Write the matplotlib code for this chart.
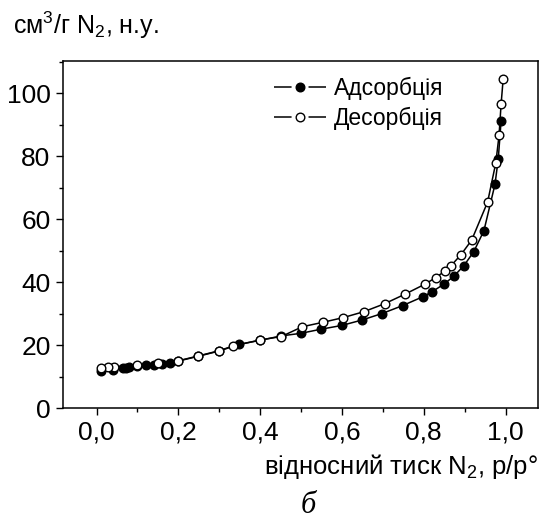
import numpy as np
from matplotlib import pyplot as plt
from matplotlib.ticker import MultipleLocator, FuncFormatter

plt.rcParams['font.family'] = ['Liberation Sans', 'DejaVu Sans']
plt.rcParams['mathtext.fontset'] = 'custom'
plt.rcParams['mathtext.rm'] = 'Liberation Sans'
plt.rcParams['mathtext.it'] = 'Liberation Sans'

# adsorption branch (filled)
ads_x = [0.010, 0.040, 0.065, 0.073, 0.080, 0.100, 0.120, 0.140, 0.159, 0.179,
         0.200, 0.248, 0.300, 0.348, 0.400, 0.452, 0.499, 0.548, 0.599, 0.648,
         0.698, 0.748, 0.799, 0.820, 0.849, 0.874, 0.898, 0.922, 0.947, 0.974,
         0.982, 0.989]
ads_y = [12.0, 12.3, 12.9, 12.9, 13.0, 13.5, 13.7, 13.9, 14.0, 14.5,
         15.0, 16.5, 18.2, 20.3, 21.6, 23.0, 23.8, 25.1, 26.3, 28.0,
         30.1, 32.6, 35.5, 37.0, 39.4, 42.0, 45.3, 49.7, 56.4, 71.1,
         79.1, 91.3]

# desorption branch (open)
des_x = [0.994, 0.989, 0.984, 0.976, 0.956, 0.917, 0.891, 0.866, 0.853, 0.829,
         0.804, 0.755, 0.704, 0.654, 0.603, 0.553, 0.503, 0.452, 0.400, 0.334,
         0.300, 0.248, 0.200, 0.150, 0.100, 0.042, 0.028, 0.010]
des_y = [104.5, 96.6, 86.7, 77.9, 65.5, 53.4, 48.8, 45.2, 43.7, 41.5,
         39.5, 36.3, 33.2, 30.7, 28.8, 27.3, 25.9, 22.8, 21.7, 19.8,
         18.3, 16.6, 15.1, 14.3, 13.7, 13.2, 13.2, 12.7]

fig = plt.figure(figsize=(5.45, 5.19), dpi=100)
ax = fig.add_axes([0.1156, 0.2133, 0.8714, 0.6692])

ax.plot(ads_x, ads_y, c="black", lw=1.1, marker="o", markersize=6.2,
        mfc="black", mec="black", label="Адсорбція")
ax.plot(des_x, des_y, c="black", lw=1.1, marker="o", markersize=6.2,
        mfc="white", mec="black", mew=1.0, label="Десорбція")

ax.set_xlim(-0.082, 1.079)
ax.set_ylim(0, 110.3)

ax.xaxis.set_major_locator(MultipleLocator(0.2))
ax.xaxis.set_minor_locator(MultipleLocator(0.1))
ax.yaxis.set_major_locator(MultipleLocator(20))
ax.yaxis.set_minor_locator(MultipleLocator(10))
ax.xaxis.set_major_formatter(FuncFormatter(lambda v, p: f"{v:.1f}".replace(".", ",")))
ax.yaxis.set_major_formatter(FuncFormatter(lambda v, p: f"{v:.0f}"))

ax.tick_params(which="major", direction="out", length=5, width=1, labelsize=19, pad=4)
ax.tick_params(which="minor", direction="out", length=3, width=1)
for s in ax.spines.values():
    s.set_linewidth(1.1)

leg = ax.legend(loc="upper left", bbox_to_anchor=(0.41, 1.0), frameon=False,
                fontsize=16.5, handlelength=2.27, handletextpad=0.35, labelspacing=0.3,
                borderaxespad=0.3)
# gap in the legend line around the marker (dashes get scaled by lw)
for ln in leg.get_lines():
    ln.set_dashes((11.5, 11.1, 11.5, 0))

fig.text(0.024, 0.934, r"см$^3$/г N$_2$, н.у.", fontsize=18, ha="left", va="baseline")
fig.text(0.987, 0.086, r"відносний тиск N$_2$, p/p°", fontsize=18.5, ha="right", va="baseline")
fig.text(0.565, 0.012, "б", fontsize=22, style="italic", family="Liberation Serif",
         ha="center", va="baseline")

fig.savefig("out.png", dpi=100)
